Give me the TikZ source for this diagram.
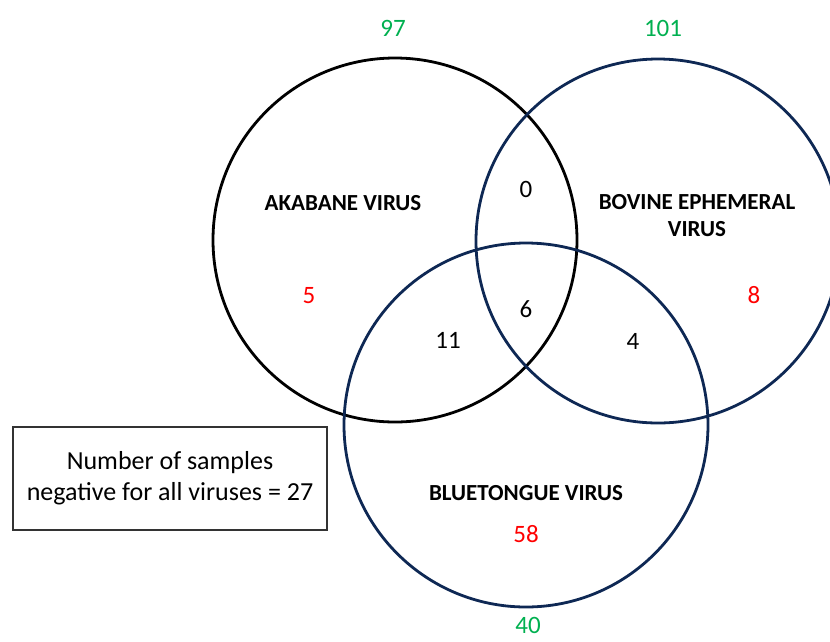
\documentclass[tikz,border=0pt]{standalone}
\usepackage{fontspec}
\setmainfont{Carlito}
\usepackage{xcolor}
\usepackage{tikz}
\usetikzlibrary{positioning}
\definecolor{vennnavy}{RGB}{14,40,84}
\definecolor{vennred}{RGB}{255,0,0}
\definecolor{venngreen}{RGB}{0,176,80}
\begin{document}
\begin{tikzpicture}[x=1pt, y=-1pt,
                        akanode/.style={circle, draw=black, line width=2.8pt, minimum size=364pt, inner sep=0pt},
                        navynode/.style={circle, draw=vennnavy, line width=2.8pt, minimum size=364pt, inner sep=0pt},
                        virusname/.style={font=\fontsize{23}{27}\selectfont\bfseries, align=center, inner sep=0pt},
                        totalnum/.style={font=\fontsize{25}{30}\selectfont, text=venngreen, inner sep=0pt},
                        onlynum/.style={font=\fontsize{25}{30}\selectfont, text=vennred, inner sep=0pt},
                        sharednum/.style={font=\fontsize{25}{30}\selectfont, inner sep=0pt},
                        notebox/.style={rectangle, draw=black!80, line width=1.4pt, minimum width=314pt, minimum height=103pt,
                                        align=center, font=\fontsize{26}{31}\selectfont},
                        ]
        \useasboundingbox (0,0) rectangle (830,641);
        \clip (0,0) rectangle (830,641);
        %Circles
        \node[akanode]     (Aka)    at (395,240)   {};
        \node[navynode]    (Bef)    at (658,241)   {};
        \node[navynode]    (Blu)    at (526,425)   {};

        %Names
        \node[virusname]   (AkaName)  at (343,203)   {AKABANE VIRUS};
        \node[virusname]   (BefName)  at (697,216)   {BOVINE EPHEMERAL\\VIRUS};
        \node[virusname]   (BluName)  at (526,493)   {BLUETONGUE VIRUS};

        %Totals
        \node[totalnum]    (AkaTot)   at (393,28)    {97};
        \node[totalnum]    (BefTot)   at (663,28)    {101};
        \node[totalnum]    (BluTot)   at (528,625)   {40};

        %Counts
        \node[onlynum]     (AkaOnly)  at (309,296)   {5};
        \node[onlynum]     (BefOnly)  at (754,295)   {8};
        \node[onlynum]     (BluOnly)  at (526,534)   {58};
        \node[sharednum]   (AkaBef)   at (526,189)   {0};
        \node[sharednum]   (AllThree) at (526,309)   {6};
        \node[sharednum]   (AkaBlu)   at (448,340)   {11};
        \node[sharednum]   (BefBlu)   at (633,341)   {4};

        %Note
        \node[notebox]     (Negative) at (170,478.5) {Number of samples\\negative for all viruses = 27};
    \end{tikzpicture}
\end{document}
